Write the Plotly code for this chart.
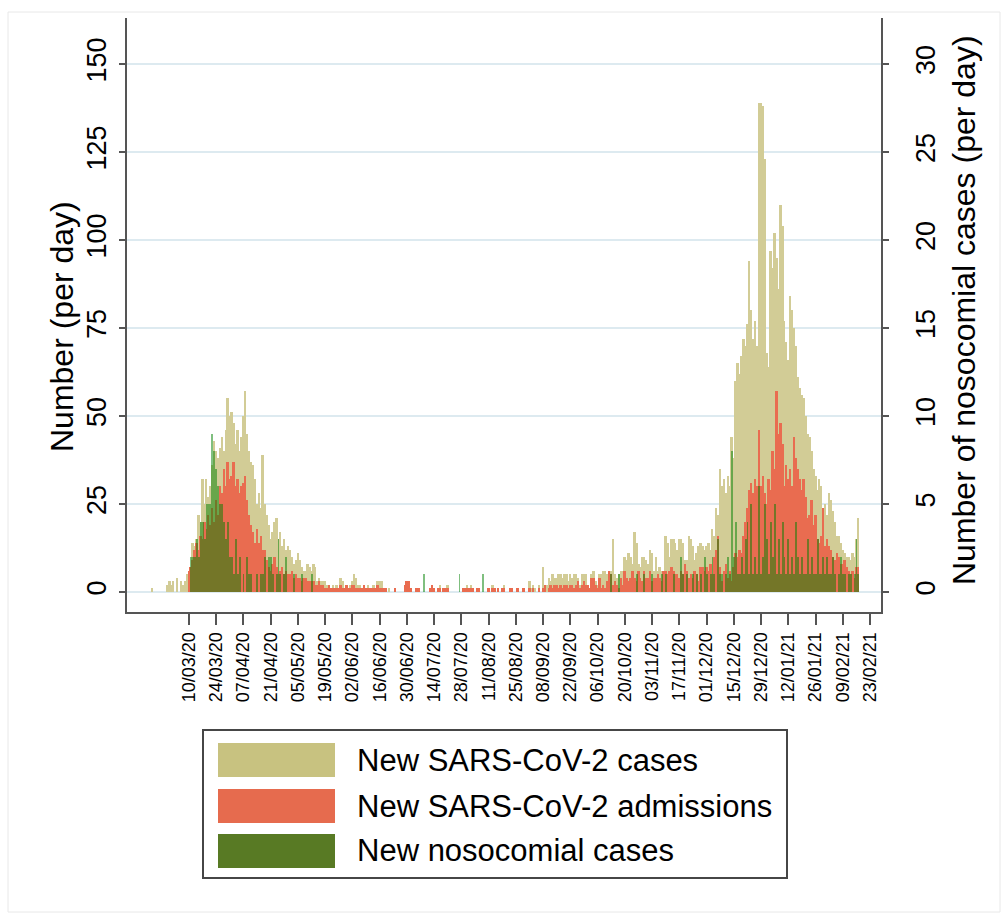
import pandas as pd
import plotly.graph_objects as go

# Daily series, one value per day starting on this date
start_date = "2020-02-20"

# New SARS-CoV-2 cases (per day)
cases = (
    [1, 0, 0, 0, 0, 0, 0, 0, 2, 3]  # Feb 20-29
    + [2, 3, 0, 4, 0, 3, 2, 3, 5, 6, 7, 14, 13, 15, 22, 20, 32, 25, 32, 27,
       30, 36, 43, 40, 38, 41, 44, 40, 46, 55, 50]  # Mar
    + [51, 48, 42, 46, 40, 44, 50, 57, 45, 40, 37, 36, 32, 25, 28, 24, 39, 25, 22, 19,
       15, 17, 20, 21, 15, 17, 13, 15, 12, 13]  # Apr
    + [12, 10, 8, 9, 11, 9, 7, 6, 6, 8, 7, 6, 8, 7, 3, 4, 3, 3, 3, 2,
       2, 1, 2, 1, 2, 1, 4, 3, 1, 2, 1]  # May
    + [2, 3, 5, 4, 2, 2, 1, 2, 1, 2, 1, 1, 2, 1, 3, 3, 3, 1, 1, 0,
       1, 0, 0, 1, 0, 0, 0, 0, 2, 3]  # Jun
    + [3, 1, 0, 0, 1, 1, 0, 0, 0, 0, 0, 1, 2, 1, 0, 1, 2, 0, 1, 1,
       2, 0, 0, 0, 0, 0, 0, 0, 1, 1, 2]  # Jul
    + [1, 2, 1, 0, 1, 1, 0, 0, 0, 0, 1, 0, 2, 1, 0, 1, 0, 1, 2, 0,
       0, 1, 1, 0, 0, 1, 0, 0, 1, 0, 0]  # Aug
    + [3, 1, 2, 1, 0, 2, 0, 7, 2, 2, 4, 3, 5, 4, 4, 5, 5, 4, 5, 5,
       3, 5, 4, 5, 5, 4, 2, 5, 5, 5]  # Sep
    + [2, 1, 5, 6, 3, 2, 5, 5, 6, 6, 5, 6, 6, 15, 5, 4, 5, 6, 6, 10,
       9, 11, 10, 8, 17, 14, 8, 7, 10, 10, 9]  # Oct
    + [8, 12, 11, 6, 10, 6, 7, 6, 6, 16, 14, 10, 15, 15, 14, 12, 15, 15, 14, 9,
       9, 16, 15, 13, 9, 11, 13, 14, 13, 12]  # Nov
    + [13, 14, 12, 18, 16, 24, 22, 35, 30, 32, 28, 33, 30, 44, 38, 60, 65, 62, 67, 72,
       70, 76, 94, 80, 72, 77, 70, 139, 139, 138, 123]  # Dec
    + [68, 64, 97, 92, 102, 95, 86, 110, 104, 77, 71, 66, 84, 80, 75, 70, 61, 58, 56, 55,
       50, 45, 44, 40, 35, 33, 29, 32, 30, 24, 25]  # Jan
    + [22, 28, 26, 23, 20, 16, 16, 14, 12, 11, 10, 10, 9, 11, 10, 15, 21]  # Feb 1-17
)

# New SARS-CoV-2 admissions (per day)
admissions = (
    [0] * 10  # Feb 20-29
    + [0, 0, 0, 0, 0, 0, 0, 0, 0, 6, 7, 9, 12, 14, 12, 16, 15, 20, 18, 22,
       19, 24, 20, 26, 22, 30, 28, 35, 30, 37, 32]  # Mar
    + [33, 37, 30, 32, 28, 30, 31, 33, 26, 22, 19, 17, 14, 18, 14, 16, 12, 12, 9, 7,
       6, 8, 10, 7, 5, 6, 7, 5, 6, 5]  # Apr
    + [5, 6, 4, 5, 4, 4, 3, 4, 4, 3, 3, 3, 3, 2, 2, 3, 2, 2, 1, 1,
       2, 1, 1, 1, 1, 1, 2, 1, 1, 2, 1]  # May
    + [1, 2, 2, 1, 1, 1, 1, 2, 1, 1, 1, 1, 1, 1, 2, 1, 1, 1, 1, 0,
       0, 0, 0, 1, 0, 0, 0, 0, 2, 3]  # Jun
    + [3, 1, 0, 0, 1, 1, 0, 0, 0, 0, 0, 1, 2, 1, 0, 1, 1, 0, 1, 1,
       1, 0, 0, 0, 0, 0, 0, 0, 1, 1, 1]  # Jul
    + [1, 1, 1, 0, 1, 1, 0, 0, 0, 0, 1, 0, 1, 1, 0, 1, 0, 1, 1, 0,
       0, 1, 1, 0, 0, 1, 0, 0, 1, 0, 0]  # Aug
    + [1, 0, 1, 0, 0, 1, 0, 1, 2, 0, 1, 2, 1, 2, 2, 1, 2, 1, 2, 2,
       1, 2, 2, 1, 2, 3, 1, 2, 3, 2]  # Sep
    + [2, 1, 4, 4, 2, 1, 4, 1, 2, 1, 3, 6, 5, 2, 3, 2, 1, 4, 2, 6,
       4, 3, 4, 6, 4, 3, 6, 4, 3, 6, 4]  # Oct
    + [4, 6, 3, 4, 4, 5, 4, 3, 6, 6, 5, 6, 7, 6, 5, 5, 4, 6, 5, 8,
       6, 4, 5, 4, 6, 5, 3, 7, 7, 6]  # Nov
    + [7, 6, 8, 5, 10, 12, 16, 7, 3, 6, 8, 4, 6, 3, 7, 11, 10, 12, 11, 16,
       20, 24, 29, 31, 28, 32, 30, 46, 30, 33, 28]  # Dec
    + [25, 32, 29, 40, 35, 57, 45, 48, 42, 30, 36, 32, 35, 30, 44, 38, 35, 32, 29, 32,
       27, 21, 22, 26, 19, 22, 15, 14, 16, 24, 13]  # Jan
    + [15, 13, 12, 10, 9, 11, 10, 8, 8, 9, 7, 6, 5, 6, 4, 7, 7]  # Feb 1-17
)

# New nosocomial cases (per day, right axis)
nosocomial = (
    [0] * 10  # Feb 20-29
    + [0, 0, 0, 0, 0, 0, 0, 0, 0, 0, 2, 2, 2, 3, 2, 4, 4, 3, 5, 5,
       5, 9, 8, 7, 6, 5, 5, 4, 3, 4, 2]  # Mar
    + [2, 1, 3, 1, 2, 0, 1, 0, 2, 1, 1, 0, 0, 1, 0, 1, 1, 2, 0, 2,
       2, 1, 0, 1, 3, 1, 0, 1, 2, 0]  # Apr
    + [0, 0, 1, 0, 0, 0, 1, 0, 0, 0, 0, 1, 0, 0, 0, 0, 0, 0, 0, 0,
       0, 0, 0, 0, 0, 0, 0, 0, 0, 0, 0]  # May
    + [0] * 30  # Jun
    + [0, 0, 0, 0, 0, 0, 0, 0, 1, 0, 0, 0, 0, 0, 0, 0, 0, 0, 0, 0,
       0, 0, 0, 0, 0, 0, 1, 0, 0, 0, 0]  # Jul
    + [0, 0, 0, 0, 0, 0, 0, 1, 0, 0, 0, 0, 0, 0, 0, 0, 0, 0, 0, 0,
       0, 0, 0, 0, 0, 0, 0, 0, 0, 0, 0]  # Aug
    + [0] * 30  # Sep
    + [0, 0, 0, 0, 0, 0, 0, 0, 0, 0, 0, 0, 1, 0, 0, 0, 1, 0, 0, 0,
       0, 0, 0, 0, 0, 1, 0, 0, 0, 1, 0]  # Oct
    + [0, 0, 1, 0, 0, 0, 0, 1, 0, 1, 0, 0, 0, 1, 0, 0, 0, 2, 1, 0,
       1, 0, 0, 1, 0, 1, 0, 1, 0, 2]  # Nov
    + [1, 0, 1, 2, 1, 0, 3, 1, 1, 0, 1, 2, 1, 8, 2, 4, 1, 1, 2, 1,
       3, 4, 1, 5, 1, 2, 1, 6, 1, 2, 5]  # Dec
    + [3, 1, 4, 2, 5, 1, 3, 1, 4, 2, 1, 3, 1, 2, 1, 4, 2, 1, 2, 1,
       1, 3, 1, 2, 1, 1, 3, 1, 1, 2, 1]  # Jan
    + [2, 1, 1, 2, 1, 0, 1, 2, 1, 1, 0, 1, 1, 0, 1, 3, 1]  # Feb 1-17
)

x_tick_labels = [
    "10/03/20", "24/03/20", "07/04/20", "21/04/20", "05/05/20", "19/05/20",
    "02/06/20", "16/06/20", "30/06/20", "14/07/20", "28/07/20", "11/08/20",
    "25/08/20", "08/09/20", "22/09/20", "06/10/20", "20/10/20", "03/11/20",
    "17/11/20", "01/12/20", "15/12/20", "29/12/20", "12/01/21", "26/01/21",
    "09/02/21", "23/02/21",
]
left_ticks = [0, 25, 50, 75, 100, 125, 150]
right_ticks = [0, 5, 10, 15, 20, 25, 30]

series_names = ["New SARS-CoV-2 cases", "New SARS-CoV-2 admissions", "New nosocomial cases"]

# ---------------------------------------------------------------------------
dates = pd.date_range(start_date, periods=len(cases), freq="D")
x_tick_vals = [pd.to_datetime(t, format="%d/%m/%y") for t in x_tick_labels]
DAY_MS = 86400000

FONT = "Liberation Sans, Arial, sans-serif"
KHAKI = "rgb(210,204,150)"
RED = "rgb(233,108,80)"
GREEN = "rgba(0,128,0,0.5)"
SWATCH = ["rgb(200,194,128)", "rgb(230,107,78)", "rgb(88,122,36)"]
AXIS = "rgb(85,85,85)"
GRID = "rgb(221,234,240)"

fig = go.Figure()
fig.add_trace(go.Bar(x=dates, y=cases, width=DAY_MS, marker_color=KHAKI,
                     marker_line_width=0, name=series_names[0], yaxis="y"))
fig.add_trace(go.Bar(x=dates, y=admissions, width=DAY_MS, marker_color=RED,
                     marker_line_width=0, name=series_names[1], yaxis="y"))
fig.add_trace(go.Bar(x=dates, y=nosocomial, width=DAY_MS, marker_color=GREEN,
                     marker_line_width=0, name=series_names[2], yaxis="y2"))

# plot area in pixels: x 127..881, y 18..612
L, R, T, B = 127, 881, 18, 612
W, H = 1005, 920


def px(xp):
    return (xp - L) / (R - L)


def py(yp):
    return (B - yp) / (B - T)


ref = pd.Timestamp("2020-03-10")
x_range = [ref - pd.Timedelta(days=31.86), ref + pd.Timedelta(days=355.6)]

fig.update_layout(
    width=W, height=H,
    margin=dict(l=L, r=W - R, t=T, b=H - B, pad=0),
    paper_bgcolor="white", plot_bgcolor="white",
    barmode="overlay", bargap=0,
    showlegend=False,
    font=dict(family=FONT, color="black"),
    xaxis=dict(
        type="date", range=x_range,
        tickmode="array", tickvals=x_tick_vals, ticktext=x_tick_labels,
        tickangle=-90, tickfont=dict(size=18),
        ticks="outside", ticklen=11, tickwidth=2, tickcolor=AXIS,
        showline=True, linecolor=AXIS, linewidth=2,
        showgrid=False, zeroline=False,
    ),
    yaxis=dict(
        range=[-5.68, 163.07],
        tickmode="array", tickvals=left_ticks,
        tickangle=-90, tickfont=dict(size=27),
        ticks="outside", ticklen=6, tickwidth=2, tickcolor=AXIS,
        ticklabelstandoff=2,
        showline=True, linecolor=AXIS, linewidth=2,
        showgrid=True, gridcolor=GRID, gridwidth=1.5,
        zeroline=False,
    ),
    yaxis2=dict(
        range=[-1.136, 32.614], overlaying="y", side="right",
        tickmode="array", tickvals=right_ticks,
        tickangle=-90, tickfont=dict(size=27),
        ticks="outside", ticklen=6, tickwidth=2, tickcolor=AXIS,
        ticklabelstandoff=14,
        showline=True, linecolor=AXIS, linewidth=2,
        showgrid=False, zeroline=False,
    ),
)

annotations = [
    dict(text="Number (per day)", x=px(62), y=py(327), xref="paper", yref="paper",
         textangle=-90, showarrow=False, font=dict(size=32), xanchor="center", yanchor="middle"),
    dict(text="Number of nosocomial cases (per day)", x=px(964), y=py(310),
         xref="paper", yref="paper", textangle=-90, showarrow=False,
         font=dict(size=32), xanchor="center", yanchor="middle"),
]

shapes = [
    # light outer frame
    dict(type="rect", xref="paper", yref="paper", x0=px(8), x1=px(1000), y0=py(912), y1=py(12),
         line=dict(color="rgb(232,232,232)", width=1), fillcolor="rgba(0,0,0,0)", layer="below"),
    # legend box
    dict(type="rect", xref="paper", yref="paper", x0=px(203), x1=px(787), y0=py(878), y1=py(730),
         line=dict(color="rgb(70,70,70)", width=2), fillcolor="white"),
]

row_centers = [760, 806, 851]
for name, colour, yc in zip(series_names, SWATCH, row_centers):
    shapes.append(dict(type="rect", xref="paper", yref="paper",
                       x0=px(218), x1=px(335), y0=py(yc + 17), y1=py(yc - 17),
                       line=dict(width=0), fillcolor=colour))
    annotations.append(dict(text=name, x=px(355), y=py(yc), xref="paper", yref="paper",
                            showarrow=False, xanchor="left", yanchor="middle",
                            font=dict(size=31)))

fig.update_layout(shapes=shapes, annotations=annotations)

fig.write_html("out.html")
